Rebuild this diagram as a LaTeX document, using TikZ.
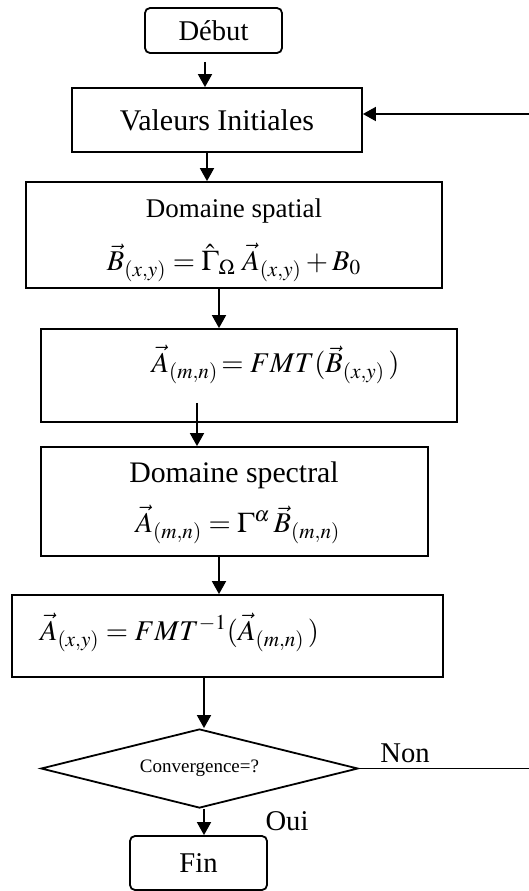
\documentclass[tikz,border=0pt]{standalone}
\usepackage{mathptmx}
\usepackage{fontspec}
\setmainfont{Liberation Serif}
\usetikzlibrary{arrows.meta,shapes.geometric}
\tikzset{
  box/.style={draw,line width=0.9pt,inner sep=0pt,font=\fontsize{14.3}{17}\selectfont},
  txt/.style={anchor=base,inner sep=0pt,font=\fontsize{14.3}{17}\selectfont},
  flow/.style={->,line width=0.9pt}
}
\begin{document}
\begin{tikzpicture}[x=0.5pt,y=-0.5pt,>={Triangle[length=6.5pt,width=7pt]}]
  \useasboundingbox (0,0) rectangle (529,891);

  \node[box,rounded corners=2.5pt,minimum width=68.5pt,minimum height=22.5pt] (debut) at (213.5,30.5) {D\'ebut};
  \node[box,minimum width=145pt,minimum height=32pt,font=\fontsize{15}{18}\selectfont] (vi) at (217,120) {Valeurs Initiales};
  \node[box,minimum width=208pt,minimum height=53pt] (spatial) at (234,235) {};
  \node[box,minimum width=208pt,minimum height=46.5pt] (fmt) at (249,375.5) {};
  \node[box,minimum width=193.5pt,minimum height=54.5pt] (spectral) at (234.5,501.5) {};
  \node[box,minimum width=215.5pt,minimum height=41pt] (fmtinv) at (227.5,636) {};
  \node[draw,line width=0.9pt,diamond,aspect=4,inner sep=0pt,minimum width=158.5pt,minimum height=39.5pt,
        font=\fontsize{9.5}{11}\selectfont] (conv) at (199.5,768.5) {Convergence=?};
  \node[box,rounded corners=2.5pt,minimum width=68.5pt,minimum height=27pt] (fin) at (198.5,863) {Fin};

  \node[txt,font=\fontsize{13.5}{16}\selectfont] (spatialT) at (234,217) {Domaine spatial};
  \node[txt] (spatialEq) at (234,270) {$\vec{B}_{(x,y)} = \hat{\Gamma}_{\Omega}\;\vec{A}_{(x,y)} + B_0$};
  \node[txt] (fmtEq) at (275.5,372) {$\vec{A}_{(m,n)}\!= FMT(\vec{B}_{(x,y)}\,)$};
  \node[txt,font=\fontsize{14.9}{18}\selectfont] (spectralT) at (234,482) {Domaine spectral};
  \node[txt] (spectralEq) at (238,532) {$\vec{A}_{(m,n)} = \Gamma^{\alpha}\,\vec{B}_{(m,n)}$};
  \node[txt] (fmtinvEq) at (179.5,640) {$\vec{A}_{(x,y)} = FMT^{-1}(\vec{A}_{(m,n)}\,)$};
  \node[txt,anchor=center] (non) at (405,753) {Non};
  \node[txt,anchor=center] (oui) at (287,821) {Oui};

  \coordinate (loopTop) at (529,114);
  \coordinate (loopBot) at (529,768.5);

  \draw[flow,shorten <=4pt] (debut.south -| 205,0) -- (vi.north -| 205,0);
  \draw[flow] (vi.south -| 207,0) -- (spatial.north -| 207,0);
  \draw[flow] (spatial.south -| 219,0) -- (fmt.north -| 219,0);
  \draw[flow,shorten <=-10pt] (fmt.south -| 197,0) -- (spectral.north -| 197,0);
  \draw[flow] (spectral.south -| 219,0) -- (fmtinv.north -| 219,0);
  \draw[flow] (fmtinv.south -| 204,0) -- (conv.north -| 204,0);
  \draw[flow] (conv.south -| 204,0) -- (fin.north -| 204,0);
  \draw[line width=0.9pt] (conv.east) -- (loopBot);
  \draw[flow] (loopTop) -- (loopTop -| vi.east);
\end{tikzpicture}
\end{document}
